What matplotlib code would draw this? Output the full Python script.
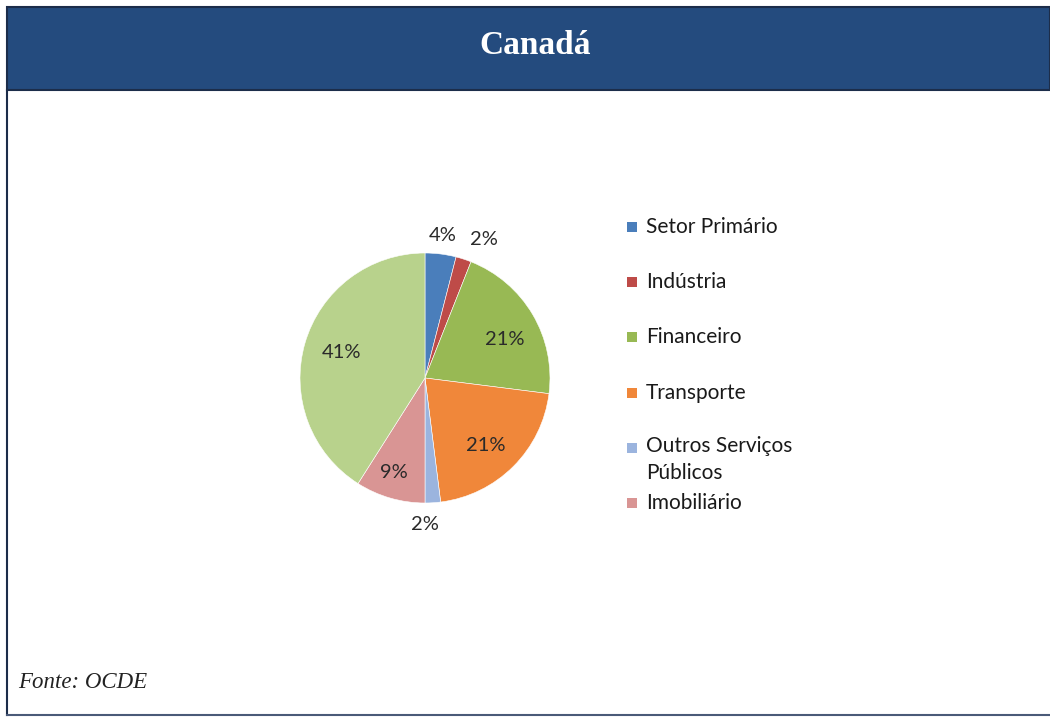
import matplotlib.pyplot as plt
from matplotlib.patches import Rectangle
import numpy as np

categories = ['Setor Primário', 'Indústria', 'Financeiro', 'Transporte',
              'Outros Serviços\nPúblicos', 'Imobiliário', 'Outros']
shares = [4, 2, 21, 21, 2, 9, 41]
colors = ['#4a7ebb', '#be4b48', '#98b954', '#f0873a', '#9bb4de', '#d99594', '#b8d28c']
# where each percentage sits: fraction of radius, and clockwise nudge in degrees
label_r = [1.15, 1.2, 0.71, 0.73, 1.17, 0.8, 0.7]
label_turn = [0, 5, 5, 3, 3.6, 2, 1]
legend_count = 6

W, H = 1050, 717
fig = plt.figure(figsize=(W / 100, H / 100), dpi=100)
fig.patch.set_facecolor('white')

# frame + header band (pixel coords)
bg = fig.add_axes([0, 0, 1, 1])
bg.set_xlim(0, W)
bg.set_ylim(H, 0)
bg.axis('off')
bg.add_patch(Rectangle((7, 7), W - 7, 83, facecolor='#244b7e', edgecolor='#1c2d4a', lw=1.5))
bg.plot([7, 7], [90, 715], color='#1c2d4a', lw=1.5)
bg.plot([7, W], [715, 715], color='#4a5a78', lw=1.5)
bg.text(535, 46, 'Canadá', color='white', fontsize=24, fontweight='bold',
        family='Liberation Serif', ha='center', va='center')
bg.text(18, 683, 'Fonte: OCDE', fontsize=16.5, style='italic', family='Liberation Serif',
        color='#222222', ha='left', va='center')

# pie: centre (425, 378), radius 125 px
cx, cy, R = 425, 378, 125
ax = fig.add_axes([(cx - R) / W, 1 - (cy + R) / H, 2 * R / W, 2 * R / H])
wedges, _ = ax.pie(shares, colors=colors, startangle=90, counterclock=False,
                   wedgeprops=dict(edgecolor='white', linewidth=0.4))
ax.set_xlim(-1, 1)
ax.set_ylim(-1, 1)

for w, v, r, t in zip(wedges, shares, label_r, label_turn):
    mid = np.deg2rad((w.theta1 + w.theta2) / 2 - t)
    ax.text(r * np.cos(mid), r * np.sin(mid), f'{v}%', ha='center', va='center',
            fontsize=14.5, family='Lato', color='#2a2a2a', clip_on=False)

# legend drawn by hand
for i in range(legend_count):
    y = 227 + i * 55.2
    bg.add_patch(Rectangle((627, y - 5), 10, 10, facecolor=colors[i], edgecolor='none'))
    if '\n' in categories[i]:
        bg.text(646, y - 12, categories[i], fontsize=15, family='Lato', color='#1a1a1a',
                ha='left', va='top', linespacing=1.45)
    else:
        bg.text(646, y, categories[i], fontsize=15, family='Lato', color='#1a1a1a',
                ha='left', va='center')

fig.savefig('out.png', dpi=100)
